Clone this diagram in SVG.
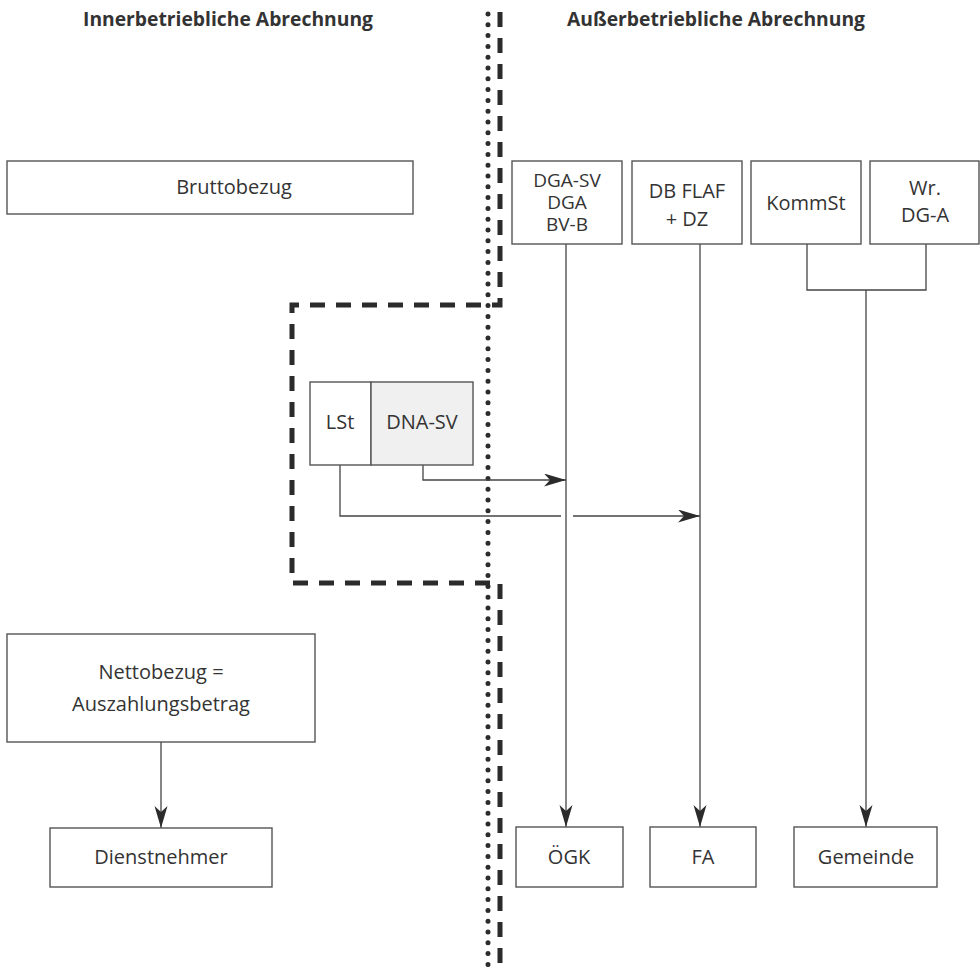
<svg xmlns="http://www.w3.org/2000/svg" width="980" height="968" viewBox="0 0 980 968">
<defs>
<marker id="arr" markerUnits="userSpaceOnUse" markerWidth="24" markerHeight="14" refX="22" refY="6.5" orient="auto">
<path d="M0,0 L22,6.5 L0,13 L6,6.5 z" fill="#2b2b2b"/>
</marker>
<style>
.box{fill:#fff;stroke:#555;stroke-width:1.4}
.gray{fill:#f0f0f0;stroke:#555;stroke-width:1.4}
.t{font-family:"Open Sans","Liberation Sans",sans-serif;font-size:20px;fill:#333;text-anchor:middle}
.s{font-size:19px}
.h{font-family:"Open Sans","Liberation Sans",sans-serif;font-size:19.3px;font-weight:bold;fill:#333;text-anchor:middle}
.ln{fill:none;stroke:#444;stroke-width:1.3}
.ar{fill:none;stroke:#444;stroke-width:1.3;marker-end:url(#arr)}
</style>
</defs>
<rect width="980" height="968" fill="#fff"/>
<g id="headers">
<text class="h" x="228" y="26">Innerbetriebliche Abrechnung</text>
<text class="h" x="716" y="26">Außerbetriebliche Abrechnung</text>
</g>
<g id="boundaries">
<path d="M500,12 V305 H292 V583 H500 V967" fill="none" stroke="#2b2b2b" stroke-width="5" stroke-dasharray="15 11"/>
<line x1="488" y1="14" x2="488" y2="965" stroke="#2b2b2b" stroke-width="5" stroke-linecap="round" stroke-dasharray="0 10.8"/>
</g>
<g id="connectors">
<line class="ar" x1="566" y1="244" x2="566" y2="827"/>
<line class="ar" x1="700" y1="244" x2="700" y2="827"/>
<path class="ln" d="M807,244 V290 H926 V244"/>
<line class="ar" x1="866" y1="290" x2="866" y2="827"/>
<path class="ar" d="M423,465 V480 H566"/>
<path class="ln" d="M340,465 V516 H561"/>
<line class="ar" x1="573" y1="516" x2="700" y2="516"/>
<line class="ar" x1="161" y1="742" x2="161" y2="828"/>
</g>
<g id="bruttobezug">
<rect class="box" x="7" y="161" width="406" height="53"/>
<text class="t" x="234" y="194">Bruttobezug</text>
</g>
<g id="dga">
<rect class="box" x="512" y="161" width="110" height="83"/>
<text class="t s" x="567" y="187">DGA-SV</text>
<text class="t s" x="567" y="209">DGA</text>
<text class="t s" x="567" y="231">BV-B</text>
</g>
<g id="dbflaf">
<rect class="box" x="632" y="161" width="110" height="83"/>
<text class="t" x="687" y="198">DB FLAF</text>
<text class="t" x="687" y="226">+ DZ</text>
</g>
<g id="kommst">
<rect class="box" x="751" y="161" width="110" height="83"/>
<text class="t" x="806" y="210">KommSt</text>
</g>
<g id="wrdga">
<rect class="box" x="870" y="161" width="109" height="83"/>
<text class="t" x="925" y="195">Wr.</text>
<text class="t" x="925" y="222">DG-A</text>
</g>
<g id="lst">
<rect class="box" x="310" y="382" width="61" height="83"/>
<text class="t" x="340" y="429">LSt</text>
</g>
<g id="dnasv">
<rect class="gray" x="371" y="382" width="102" height="83"/>
<text class="t" x="422" y="429">DNA-SV</text>
</g>
<g id="nettobezug">
<rect class="box" x="7" y="634" width="308" height="108"/>
<text class="t" x="161" y="679">Nettobezug =</text>
<text class="t" x="161" y="711">Auszahlungsbetrag</text>
</g>
<g id="dienstnehmer">
<rect class="box" x="50" y="828" width="222" height="59"/>
<text class="t" x="161" y="864">Dienstnehmer</text>
</g>
<g id="oegk">
<rect class="box" x="516" y="827" width="107" height="60"/>
<text class="t" x="569" y="864">ÖGK</text>
</g>
<g id="fa">
<rect class="box" x="650" y="827" width="106" height="60"/>
<text class="t" x="703" y="864">FA</text>
</g>
<g id="gemeinde">
<rect class="box" x="794" y="827" width="143" height="60"/>
<text class="t" x="866" y="864">Gemeinde</text>
</g>
</svg>
